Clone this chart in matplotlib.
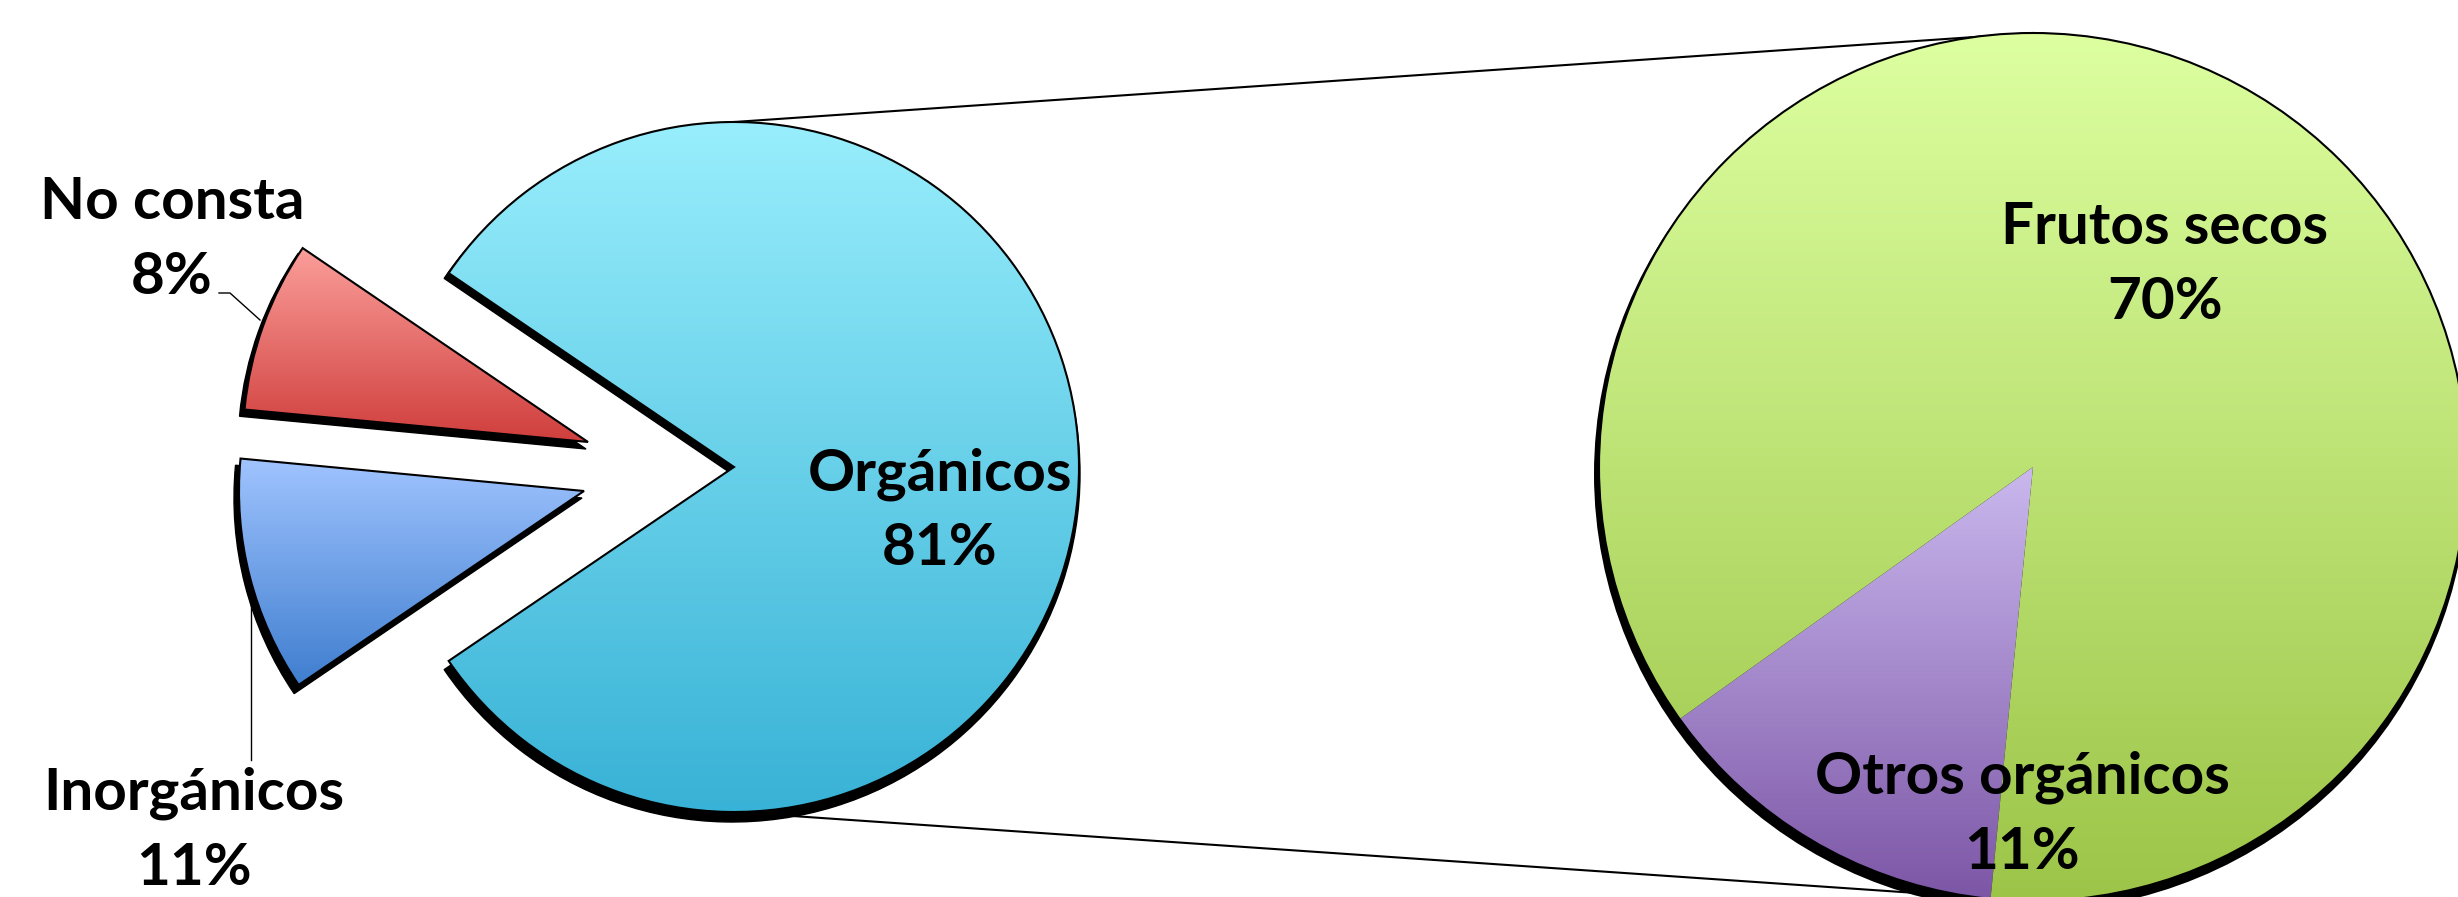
import numpy as np
import matplotlib.pyplot as plt
from matplotlib.patches import Wedge, Circle
from matplotlib.colors import LinearSegmentedColormap

# datos
labels_main = ['Orgánicos', 'No consta', 'Inorgánicos']
values_main = [81, 8, 11]
labels_sub = ['Otros orgánicos', 'Frutos secos']
values_sub = [11, 70]

# colores (arriba, abajo) del degradado
colors_main = [('#98EEFC', '#38B2D6'), ('#FB9E9A', '#CF3E3C'), ('#A0C4FF', '#3F7ECF')]
colors_sub = [('#CAB8EE', '#7C56A6'), ('#DDFFA0', '#9CC548')]

W, H = 2458, 897
plt.rcParams['font.family'] = ['Lato', 'DejaVu Sans']


def gradient_fill(ax, wedge, top, bottom, z):
    ext = wedge.get_path().get_extents()
    cmap = LinearSegmentedColormap.from_list('g', [top, bottom])
    grad = np.linspace(0, 1, 256).reshape(-1, 1)
    im = ax.imshow(grad, cmap=cmap, extent=(ext.x0, ext.x1, ext.y0, ext.y1),
                   aspect='auto', zorder=z, interpolation='bilinear')
    im.set_clip_path(wedge)


def shadow(ax, wedge, z):
    cx, cy = wedge.center
    s = Wedge((cx - 2, cy - 7), wedge.r + 3, wedge.theta1, wedge.theta2,
              facecolor='black', edgecolor='black', linewidth=1, zorder=z)
    ax.add_patch(s)


fig = plt.figure(figsize=(W / 100, H / 100), dpi=100)
ax = fig.add_axes([0, 0, 1, 1])

# pastel principal
c1, r1 = (734, 430), 345
start = 180 + (100 - values_main[0]) * 1.8
wedges1, _ = ax.pie(values_main, startangle=start, counterclock=True,
                    center=c1, radius=r1, wedgeprops=dict(linewidth=1.5, edgecolor='black'))
# porciones separadas
offsets = {1: (-146, 25), 2: (-150, -24)}
for i, (dx, dy) in offsets.items():
    wedges1[i].set_center((c1[0] + dx, c1[1] + dy))

for w, (top, bottom) in zip(wedges1, colors_main):
    shadow(ax, w, 1)
    gradient_fill(ax, w, top, bottom, 2)
    w.set_facecolor('none')
    w.set_zorder(3)

# pastel secundario
c2, r2 = (2033, 430), 434
wedges2, _ = ax.pie(values_sub, startangle=215.5, counterclock=True,
                    center=c2, radius=r2, wedgeprops=dict(linewidth=0))
ax.add_patch(Circle((c2[0] - 2, c2[1] - 7), r2 + 3, facecolor='black', zorder=1))
for w, (top, bottom) in zip(wedges2, colors_sub):
    gradient_fill(ax, w, top, bottom, 2)
    w.set_facecolor('none')
    w.set_edgecolor('none')
ax.add_patch(Circle(c2, r2, facecolor='none', edgecolor='black', linewidth=1.5, zorder=3))

# lineas de union
ax.plot([c1[0], c2[0]], [c1[1] + r1, c2[1] + r2], color='black', lw=1.5, zorder=0)
ax.plot([c1[0], c2[0]], [c1[1] - r1, c2[1] - r2], color='black', lw=1.5, zorder=0)

# etiquetas
fs = 42
kw = dict(ha='center', va='center', fontsize=fs, fontweight='bold', linespacing=1.5, zorder=5)
ax.text(940, 386, '%s\n%d%%' % (labels_main[0], values_main[0]), **kw)
ax.text(172, 657, '%s\n%d%%' % (labels_main[1], values_main[1]), **kw)
ax.text(194, 66, '%s\n%d%%' % (labels_main[2], values_main[2]), **kw)
ax.text(2165, 632, '%s\n%d%%' % (labels_sub[1], values_sub[1]), **kw)
ax.text(2022, 82, '%s\n%d%%' % (labels_sub[0], values_sub[0]), **kw)

ax.plot([219, 230, 260], [604, 604, 577], color='black', lw=1, zorder=4)
ax.plot([251, 251], [294, 137], color='black', lw=1, zorder=4)

ax.set_xlim(0, W)
ax.set_ylim(0, H)
ax.set_aspect('equal')
ax.axis('off')
fig.savefig('out.png', dpi=100, facecolor='white')
